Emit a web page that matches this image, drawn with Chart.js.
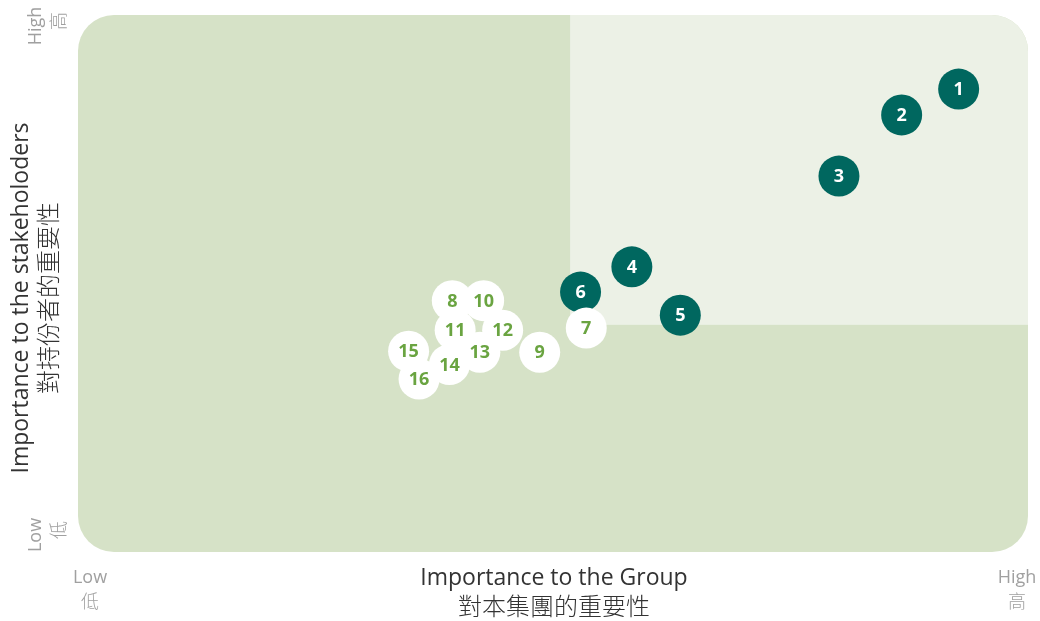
<!DOCTYPE html>
<html>
<head>
    <meta charset="utf-8" />
    <script src="https://cdn.jsdelivr.net/npm/chart.js"></script>
    <style>
        body { margin: 0; background: white; }
        .chart-container { width: 1040px; height: 621px; position: relative; }
    </style>
</head>
<body>
    <div class="chart-container">
        <canvas id="matrixChart"></canvas>
    </div>

    <script>
        // issue numbers and their scores (0-100)
        const labels = ['1', '2', '3', '4', '5', '6', '7', '8', '9', '10', '11', '12', '13', '14', '15', '16'];
        const groupScore = [92.7, 86.7, 80.1, 58.3, 63.4, 52.9, 53.5, 39.4, 48.6, 42.7, 39.7, 44.7, 42.3, 39.1, 34.8, 35.9];
        const stakeholderScore = [86.2, 81.4, 70.0, 53.1, 44.1, 48.4, 41.7, 46.8, 37.2, 46.8, 41.3, 41.3, 37.2, 34.9, 37.4, 32.2];
        const material = [true, true, true, true, true, true, false, false, false, false, false, false, false, false, false, false];
        const splitX = 51.8;
        const splitY = 42.3;

        const teal = '#00675f';
        const green = '#6aa441';

        const points = labels.map((l, i) => ({ x: groupScore[i], y: stakeholderScore[i] }));

        const backgroundPlugin = {
            id: 'quadrants',
            beforeDatasetsDraw(chart) {
                const { ctx, chartArea: a, scales } = chart;
                const sx = scales.x.getPixelForValue(splitX);
                const sy = scales.y.getPixelForValue(splitY);
                ctx.save();
                ctx.beginPath();
                ctx.roundRect(a.left, a.top, a.right - a.left, a.bottom - a.top, 36);
                ctx.fillStyle = '#d6e2c7';
                ctx.fill();
                ctx.clip();
                ctx.fillStyle = '#ecf1e6';
                ctx.fillRect(sx, a.top, a.right - sx, sy - a.top);
                ctx.restore();
            },
            afterDatasetsDraw(chart) {
                const { ctx } = chart;
                const meta = chart.getDatasetMeta(0);
                ctx.save();
                ctx.font = 'bold 18px "Open Sans"';
                ctx.textAlign = 'center';
                ctx.textBaseline = 'middle';
                meta.data.forEach((el, i) => {
                    ctx.fillStyle = material[i] ? 'white' : green;
                    ctx.fillText(labels[i], el.x, el.y + 1);
                });
                ctx.restore();
            },
            afterDraw(chart) {
                const { ctx } = chart;
                ctx.save();
                ctx.textAlign = 'center';
                ctx.textBaseline = 'middle';
                // x axis title
                ctx.fillStyle = '#333333';
                ctx.font = '23px "Open Sans"';
                ctx.fillText('Importance to the Group', 554, 578);
                ctx.font = '300 24px "Noto Sans CJK TC"';
                ctx.fillText('對本集團的重要性', 554, 606);
                // x low / high
                ctx.fillStyle = '#a0a0a0';
                ctx.font = '18px "Open Sans"';
                ctx.fillText('Low', 90, 578);
                ctx.fillText('High', 1017, 578);
                ctx.font = '300 18px "Noto Sans CJK TC"';
                ctx.fillText('低', 90, 601);
                ctx.fillText('高', 1017, 601);
                // y axis title
                ctx.save();
                ctx.translate(21, 298);
                ctx.rotate(-Math.PI / 2);
                ctx.fillStyle = '#333333';
                ctx.font = '23px "Open Sans"';
                ctx.fillText('Importance to the stakeholoders', 0, 0);
                ctx.font = '300 24px "Noto Sans CJK TC"';
                ctx.fillText('對持份者的重要性', 0, 27);
                ctx.restore();
                // y high / low
                ctx.fillStyle = '#a0a0a0';
                [['High', '高', 26], ['Low', '低', 535]].forEach(([en, zh, y]) => {
                    ctx.save();
                    ctx.translate(36, y);
                    ctx.rotate(-Math.PI / 2);
                    ctx.font = '18px "Open Sans"';
                    ctx.fillText(en, 0, 0);
                    ctx.font = '300 18px "Noto Sans CJK TC"';
                    ctx.fillText(zh, 5, 22);
                    ctx.restore();
                });
                ctx.restore();
            }
        };

        new Chart(document.getElementById('matrixChart'), {
            type: 'scatter',
            data: {
                labels: labels,
                datasets: [{
                    data: points,
                    backgroundColor: material.map(m => m ? teal : 'white'),
                    borderWidth: 0,
                    pointRadius: 20.5,
                    pointHoverRadius: 20.5
                }]
            },
            options: {
                responsive: true,
                maintainAspectRatio: false,
                animation: false,
                events: [],
                layout: { autoPadding: false, padding: { left: 78, right: 12, top: 15, bottom: 69 } },
                plugins: {
                    legend: { display: false },
                    tooltip: { enabled: false }
                },
                scales: {
                    x: { min: 0, max: 100, display: false },
                    y: { min: 0, max: 100, display: false }
                }
            },
            plugins: [backgroundPlugin]
        });
    </script>
</body>
</html>
